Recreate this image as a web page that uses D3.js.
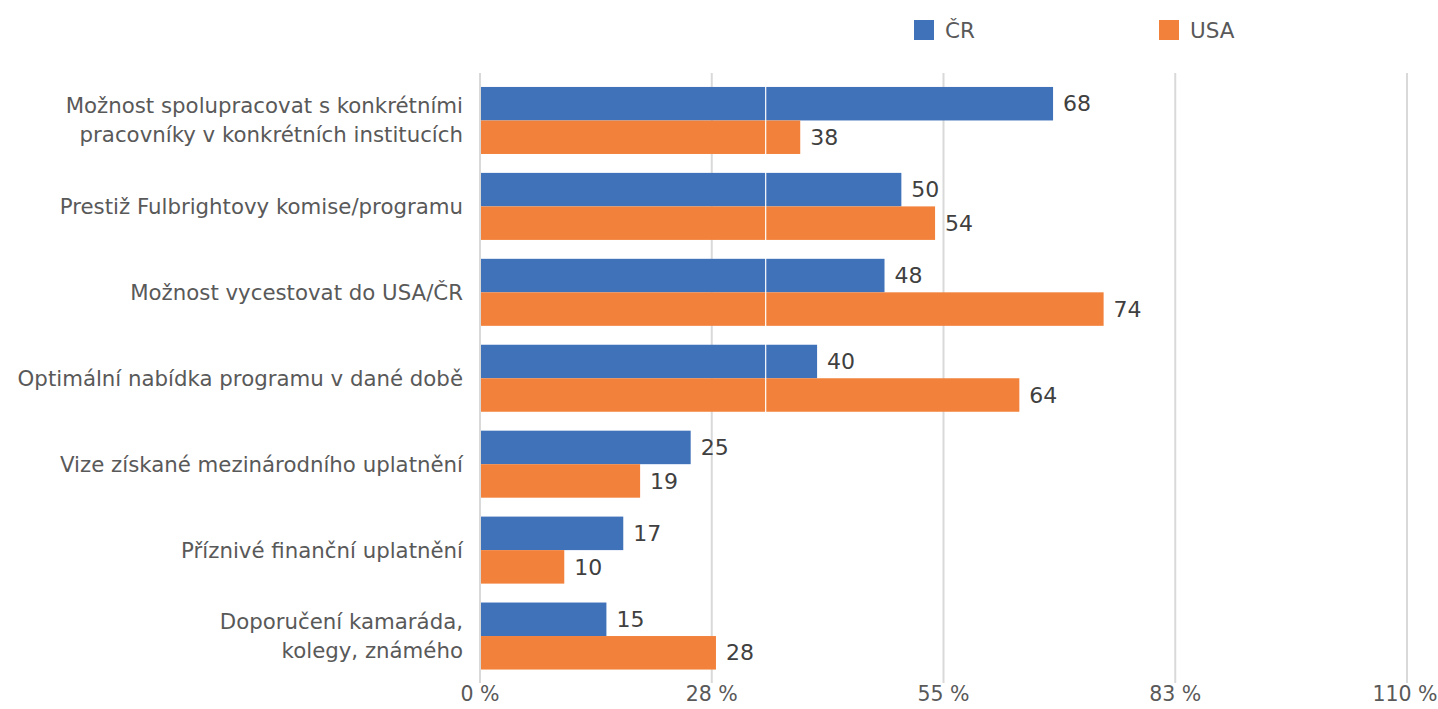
<!DOCTYPE html>
<html><head><meta charset="utf-8">
<script src="https://cdn.jsdelivr.net/npm/d3@7"></script>
<style>body{margin:0;background:#fff}svg{display:block}text{font-family:"DejaVu Sans",sans-serif}</style>
</head><body>
<svg id="c" width="1438" height="709"></svg>
<script>
const categories = [
  ["Možnost spolupracovat s konkrétními","pracovníky v konkrétních institucích"],
  ["Prestiž Fulbrightovy komise/programu"],
  ["Možnost vycestovat do USA/ČR"],
  ["Optimální nabídka programu v dané době"],
  ["Vize získané mezinárodního uplatnění"],
  ["Příznivé finanční uplatnění"],
  ["Doporučení kamaráda,","kolegy, známého"]
];
const seriesNames = ["ČR","USA"];
const valuesCR = [68,50,48,40,25,17,15];
const valuesUSA = [38,54,74,64,19,10,28];
const tickValues = [0,27.5,55,82.5,110];
const tickLabels = ["0 %","28 %","55 %","83 %","110 %"];
const whiteLineValue = 33.9;
const colors = ["#4072BA","#F2823B"];

const svg = d3.select("#c");
const x = d3.scaleLinear().domain([0,110]).range([480,1407]);
const y0 = d3.scaleBand().domain(d3.range(categories.length)).range([77.5,679]).paddingInner(0.22).paddingOuter(0.11);
const y1 = d3.scaleBand().domain([0,1]).range([0,y0.bandwidth()]);

// gridlines
svg.append("g").selectAll("line").data(tickValues).join("line")
  .attr("x1",d=>x(d)).attr("x2",d=>x(d)).attr("y1",73).attr("y2",683)
  .attr("stroke","#d9d9d9").attr("stroke-width",2);

const series = [valuesCR, valuesUSA];
const g = svg.append("g");
series.forEach((vals,si)=>{
  g.selectAll(".b"+si).data(vals).join("rect")
    .attr("x",x(0)+1).attr("y",(d,i)=>y0(i)+y1(si))
    .attr("width",d=>x(d)-x(0)-1).attr("height",y1.bandwidth())
    .attr("fill",colors[si]);
  g.selectAll(".l"+si).data(vals).join("text")
    .attr("x",d=>x(d)+10).attr("y",(d,i)=>y0(i)+y1(si)+y1.bandwidth()/2)
    .attr("dy","0.35em").attr("font-size",22).attr("fill","#404040")
    .text(d=>d);
});
// white artifact line
svg.append("line").attr("x1",x(whiteLineValue)).attr("x2",x(whiteLineValue))
  .attr("y1",77).attr("y2",680).attr("stroke","#fff").attr("stroke-width",1.2);

// category labels
categories.forEach((lines,i)=>{
  const cy = y0(i)+y0.bandwidth()/2;
  const lh = 29;
  lines.forEach((t,j)=>{
    svg.append("text").attr("x",463).attr("y",cy + (j-(lines.length-1)/2)*lh)
      .attr("dy","0.35em").attr("text-anchor","end").attr("font-size",21.3)
      .attr("fill","#595959").text(t);
  });
});

// x tick labels
svg.append("g").selectAll("text").data(tickValues).join("text")
  .attr("x",(d,i)=>x(d) - (i===tickValues.length-1 ? 2 : 0)).attr("y",694).attr("dy","0.35em").attr("text-anchor","middle")
  .attr("font-size",20.5).attr("fill","#595959").text((d,i)=>tickLabels[i]);

// legend
const legX = [914,1159];
seriesNames.forEach((n,i)=>{
  svg.append("rect").attr("x",legX[i]).attr("y",20).attr("width",20).attr("height",20).attr("fill",colors[i]);
  svg.append("text").attr("x",legX[i]+31).attr("y",30).attr("dy","0.35em")
    .attr("font-size",21.5).attr("fill","#595959").text(n);
});
</script>
</body></html>
